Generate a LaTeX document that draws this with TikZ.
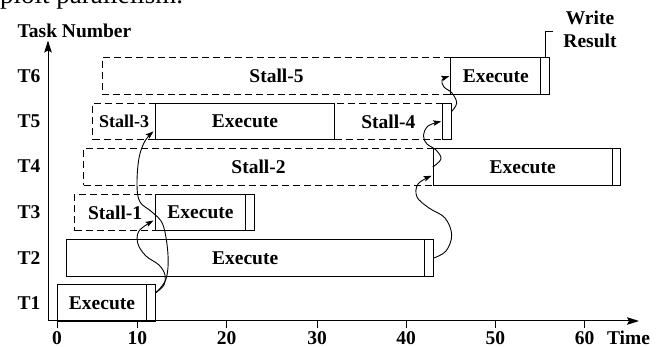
\documentclass[tikz,border=0pt]{standalone}
\usepackage{fontspec}
\setmainfont{Liberation Serif}
\usetikzlibrary{arrows.meta}
\begin{document}
\begin{tikzpicture}[x=1pt,y=-1pt,
  lbl/.style={font=\fontsize{19.5}{23.5}\selectfont\bfseries, inner sep=0pt},
  cell/.style={draw, line width=1pt, inner sep=0pt, anchor=north west, minimum height=36.5pt,
    font=\fontsize{19.5}{23.5}\selectfont\bfseries},
  stallbox/.style={cell, dash pattern=on 7pt off 4pt},
  axisline/.style={line width=1pt, -{Stealth[length=12pt,width=7.5pt,inset=2pt]}},
  dep/.style={line width=0.9pt, -{Stealth[length=8pt,width=5.5pt,inset=1.5pt]}},
  ticklbl/.style={lbl, anchor=base}]
\useasboundingbox (0,0) rectangle (662,347);

% clipped fragment of text above the figure
\node[font=\fontsize{27}{30}\selectfont, inner sep=0pt, anchor=base west] (frag) at (0,4) {ploit parallelism.};

% stall boxes (dashed)
\node[stallbox, minimum width=348.6pt] (t6st) at (101.7,57.5) {Stall-5};
\node[stallbox, minimum width=62.7pt, font=\fontsize{18}{22}\selectfont\bfseries] (t5sa) at (92.3,102.7) {Stall-3};
\node[stallbox, minimum width=107.7pt] (t5sb) at (334,102.7) {Stall-4};
\node[stallbox, minimum width=349.4pt] (t4st) at (83.3,148.3) {Stall-2};
\node[stallbox, minimum width=80.7pt] (t3st) at (74.3,193.8) {Stall-1};

% execute boxes and write-result boxes (solid)
\node[cell, minimum width=89pt] (t1ex) at (57,284.5) {Execute};
\node[cell, minimum width=9pt] (t1wr) at (146,284.5) {};
\node[cell, minimum width=358pt] (t2ex) at (65.7,239.3) {Execute};
\node[cell, minimum width=9pt] (t2wr) at (423.7,239.3) {};
\node[cell, minimum width=90pt] (t3ex) at (155,193.8) {Execute};
\node[cell, minimum width=9pt] (t3wr) at (245,193.8) {};
\node[cell, minimum width=179pt] (t4ex) at (432.7,148.3) {Execute};
\node[cell, minimum width=8.6pt] (t4wr) at (611.7,148.3) {};
\node[cell, minimum width=179pt] (t5ex) at (155,102.7) {Execute};
\node[cell, minimum width=9pt] (t5wr) at (441.7,102.7) {};
\node[cell, minimum width=90pt] (t6ex) at (450.3,57.5) {Execute};
\node[cell, minimum width=9pt] (t6wr) at (540.3,57.5) {};

% write result label
\coordinate (wrlead) at (553,31);
\draw[line width=0.8pt] (t6wr.north) |- (wrlead);
\node[lbl, align=center, anchor=base] (wrlbl) at (590,47.7) {Write\\Result};

% axes
\coordinate (origin) at (48,321);
\coordinate (ytip) at (48,40.5);
\coordinate (xtip) at (639,321);
\draw[axisline] (origin) -- (ytip);
\draw[axisline] (origin) -- (xtip);
\node[lbl, anchor=base] (tasklbl) at (74.5,37.3) {Task Number};
\node[ticklbl] (timelbl) at (628.5,344.5) {Time};
\foreach \x/\l in {57/0, 137.3/10, 226.7/20, 317/30, 406/40, 495.3/50, 584.7/60} {
  \coordinate (tkt\l) at (\x,321);
  \coordinate (tkb\l) at (\x,328);
  \draw[line width=0.8pt] (tkt\l) -- (tkb\l);
  \node[ticklbl] (tk\l) at (\x,344.5) {\l};
}

% task labels
\node[lbl] (lt6) at (29,75.7) {T6};
\node[lbl] (lt5) at (29,120.9) {T5};
\node[lbl] (lt4) at (29,166.5) {T4};
\node[lbl] (lt3) at (29,212) {T3};
\node[lbl] (lt2) at (29,257.6) {T2};
\node[lbl] (lt1) at (29,302.7) {T1};

% dependency arrows
\draw[dep] plot[smooth, tension=0.6] coordinates {([yshift=10.7pt]t1wr.east) (166,279) (168,255) (163,225) (152,212) (140,202) (137,185) (139,158) (145,141) ([xshift=-1.5pt,yshift=-10pt]t5ex.west)};
\draw[dep] plot[smooth, tension=0.6] coordinates {([yshift=10.7pt]t1wr.east) (164,285) (165,275) (159,265) (146,256) (138,244) (139,231) ([xshift=-1.5pt,yshift=-8pt]t3ex.west)};
\draw[dep] plot[smooth, tension=0.6] coordinates {(t2wr.east) (446,251) (451.7,235) (445,218) (429,208) (417,197) (418,184) ([xshift=-1pt,yshift=-8.7pt]t4ex.west)};
\draw[dep] plot[smooth, tension=0.6] coordinates {(t4ex.west) (441,159) (436,150) (427,144) (423.5,136) (428,126) ([xshift=-0.5pt]t5wr.west)};
\draw[dep] plot[smooth, tension=0.6] coordinates {([yshift=10pt]t5wr.east) (456.7,103) (452,93) (444,87) (442,80) ([xshift=-1pt]t6ex.west)};
\end{tikzpicture}
\end{document}
